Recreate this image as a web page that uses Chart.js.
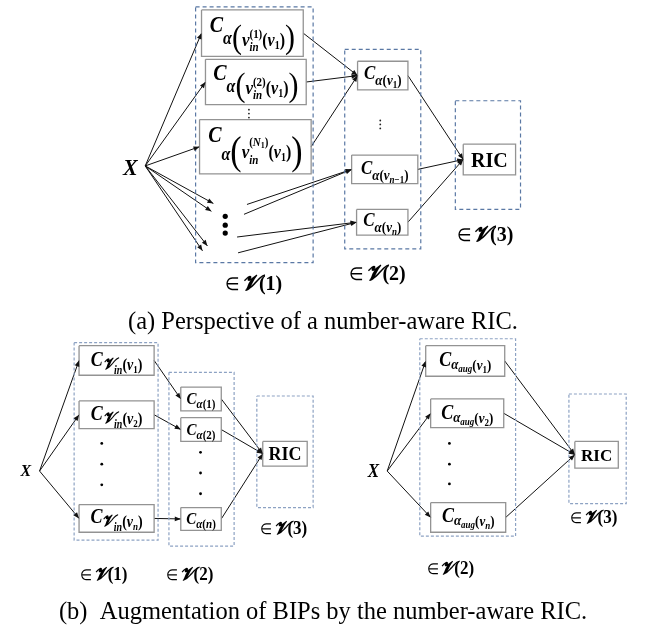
<!DOCTYPE html>
<html>
<head>
<meta charset="utf-8">
<script src="https://cdn.jsdelivr.net/npm/chart.js@4/dist/chart.umd.min.js"></script>
<style>
  html, body { margin: 0; padding: 0; background: #fff; }
  canvas { display: block; }
</style>
</head>
<body>
<canvas id="diagram" width="646" height="635"></canvas>
<script>
// text runs: [text, size, baseline shift, style]  ('{' '|' '}' stack sup/sub)
const I = 'i', B = 'b', R = 'r';

const lblIn1 = [['C',20,0,I],['α',16,12,I],['(',30,16,R],['v',17,14,I],['{'],['(1)',11,6,B],['|'],['in',11,19,I],['}'],['(',16,14,B],['v',16,14,I],['1',10,17,B],[')',16,14,B],[')',30,16,R]];
const lblIn2 = [['C',20,0,I],['α',16,12,I],['(',30,16,R],['v',17,14,I],['{'],['(2)',11,6,B],['|'],['in',11,19,I],['}'],['(',16,14,B],['v',16,14,I],['1',10,17,B],[')',16,14,B],[')',30,16,R]];
const lblInN = [['C',20,0,I],['α',16,18,I],['(',34,22,R],['v',17,16,I],['{'],['(',11,4,B],['N',11,4,I],['1',8,6,B],[')',11,4,B],['|'],['in',11,22,I],['}'],['(',16,16,B],['v',16,16,I],['1',10,19,B],[')',16,16,B],[')',34,22,R]];
const lblC1 = [['C',17,0,I],['α',13,6,I],['(',13,6,B],['v',13,6,I],['1',9,9,B],[')',13,6,B]];
const lblCn1 = [['C',17,0,I],['α',13,6,I],['(',13,6,B],['v',13,6,I],['n',9,9,I],['−1',9,9,B],[')',13,6,B]];
const lblCn = [['C',17,0,I],['α',13,6,I],['(',13,6,B],['v',13,6,I],['n',9,9,I],[')',13,6,B]];
const lblVin = k => [['C',18,0,I],['𝓥',14,3,I],['in',10,8,I],['(',14,4,B],['v',14,4,I],[k,9,7,k === 'n' ? I : B],[')',14,4,B]];
const lblAk = k => [['C',15,0,I],['α',11,4,I],['(',11,4,B],[k,11,4,k === 'n' ? I : B],[')',11,4,B]];
const lblAug = k => [['C',18,0,I],['α',13,3,I],['aug',9,6,I],['(',13,4,B],['v',13,4,I],[k,9,7,k === 'n' ? I : B],[')',13,4,B]];
const lblRic = s => [['RIC',s,0,B]];
const lblX = s => [['X',s,0,I]];
const lblSet = (k, s) => [['∈',Math.round(s * 0.85),0,R],[' ',s * 0.4,0,R],['𝓥',s,0,I],['(' + k + ')',s,0,B]];

const captionA = '(a) Perspective of a number-aware RIC.';
const captionB = '(b)  Augmentation of BIPs by the number-aware RIC.';

// boxes: id and label
const boxIds = ['a_in1','a_in2','a_inN','a_c1','a_cn1','a_cn','a_ric',
                'l_v1','l_v2','l_vn','l_c1','l_c2','l_cn','l_ric',
                'r_v1','r_v2','r_vn','r_ric'];
const boxLabels = [lblIn1, lblIn2, lblInN, lblC1, lblCn1, lblCn, lblRic(20),
                   lblVin('1'), lblVin('2'), lblVin('n'), lblAk('1'), lblAk('2'), lblAk('n'), lblRic(18),
                   lblAug('1'), lblAug('2'), lblAug('n'), lblRic(17)];

// dashed groups: id and set label
const groupIds = ['a_g1','a_g2','a_g3','l_g1','l_g2','l_g3','r_g2','r_g3'];
const groupLabels = [lblSet(1,20), lblSet(2,20), lblSet(3,20), lblSet(1,17), lblSet(2,17), lblSet(3,17), lblSet(2,17), lblSet(3,17)];

// arrows: from -> to (box ports .L / .R, or named points)
const edges = [
  ['a_X','a_in1.L'],['a_X','a_in2.L'],['a_X','a_inN.L'],
  ['a_X','a_d1'],['a_X','a_d2'],['a_X','a_d3'],['a_X','a_d4'],
  ['a_in1.R','a_c1.L'],['a_in2.R','a_c1.L'],['a_inN.R','a_c1.L'],
  ['a_s1','a_cn1.L'],['a_s2','a_cn1.L'],['a_s3','a_cn.L'],['a_s4','a_cn.L'],
  ['a_c1.R','a_ric.L'],['a_cn1.R','a_ric.L'],['a_cn.R','a_ric.L'],
  ['l_X','l_v1.L'],['l_X','l_v2.L'],['l_X','l_vn.L'],
  ['l_v1.R','l_c1.L'],['l_v2.R','l_c2.L'],['l_vn.R','l_cn.L'],
  ['l_c1.R','l_ric.L'],['l_c2.R','l_ric.L'],['l_cn.R','l_ric.L'],
  ['r_X','r_v1.L'],['r_X','r_v2.L'],['r_X','r_vn.L'],
  ['r_v1.R','r_ric.L'],['r_v2.R','r_ric.L'],['r_vn.R','r_ric.L']
];

// ---------- layout (canvas units) ----------
const boxRect = {
  a_in1:[200,6,303,53], a_in2:[204,56,306,102], a_inN:[198,117,311,172],
  a_c1:[358,58,409,87], a_cn1:[352,153,419,182], a_cn:[357,208,409,234], a_ric:[465,142,518,173],
  l_v1:[76,346,152,376], l_v2:[76,402,152,430], l_vn:[76,507,152,535],
  l_c1:[179,388,220,412], l_c2:[179,419,220,443], l_cn:[179,510,220,533], l_ric:[262,443,307,468],
  r_v1:[427,346,507,377], r_v2:[432,400,506,429], r_vn:[432,505,508,535], r_ric:[578,443,622,470]
};
const boxBaseline = {
  a_in1:28, a_in2:77, a_inN:140, a_c1:76, a_cn1:172, a_cn:225, a_ric:165,
  l_v1:367, l_v2:421, l_vn:526, l_c1:405, l_c2:436, l_cn:527, l_ric:462,
  r_v1:367, r_v2:420, r_vn:525, r_ric:463
};
const groupRect = {
  a_g1:[194,3,313,262], a_g2:[345,46,422,248], a_g3:[457,98,523,208],
  l_g1:[71,343,156,543], l_g2:[167,373,233,549], l_g3:[256,397,313,510],
  r_g2:[421,339,518,539], r_g3:[572,395,630,506]
};
const groupLabelPos = {
  a_g1:[253,290], a_g2:[378,280], a_g3:[487,240],
  l_g1:[101,583], l_g2:[188,583], l_g3:[283,537],
  r_g2:[452,577], r_g3:[597,526]
};
const points = {
  a_X:[143,164], a_d1:[212,202], a_d2:[210,210], a_d3:[206,245], a_d4:[201,250],
  a_s1:[246,203], a_s2:[243,213], a_s3:[236,236], a_s4:[237,252],
  l_X:[36,473], r_X:[388,473]
};
const xLabels = [[lblX(22),128,173],[lblX(16),22,478],[lblX(17),374,479]];
const bigDots = [[224,215],[224,224],[224,232]];
const tinyDots = [[248,107],[248,111],[248,115],[381,118],[381,122],[381,126]];
const smallDots = [[99,445],[99,466],[99,487],[199,454],[199,475],[199,496],[451,445],[451,466],[451,486]];

// math labels are drawn taller than wide to mimic the heavier math font
const MATH_TALL = 1.15;

function port(ref) {
  const [id, side] = ref.split('.');
  if (!side) return points[id];
  const r = boxRect[id];
  return [side === 'L' ? r[0] : r[2], (r[1] + r[3]) / 2];
}
function rectPath(r) {
  return [{x:r[0],y:r[1]},{x:r[2],y:r[1]},{x:r[2],y:r[3]},{x:r[0],y:r[3]},{x:r[0],y:r[1]}];
}

const datasets = [];
groupIds.forEach(id => {
  const dashA = id.startsWith('a_');
  datasets.push({ data: rectPath(groupRect[id]), showLine: true, pointRadius: 0,
    borderColor: dashA ? '#5a78a4' : '#8da2c3', borderWidth: 1.2, borderDash: dashA ? [4, 3] : [3, 2] });
});
boxIds.forEach(id => {
  datasets.push({ data: rectPath(boxRect[id]), showLine: true, pointRadius: 0,
    borderColor: '#939393', borderWidth: 1.3 });
});
edges.forEach(e => {
  const a = port(e[0]), b = port(e[1]);
  datasets.push({ data: [{x:a[0],y:a[1]},{x:b[0],y:b[1]}], showLine: true, pointRadius: 0,
    borderColor: '#111', borderWidth: 1 });
});
datasets.push({ data: bigDots.map(p => ({x:p[0],y:p[1]})), pointRadius: 2.6, backgroundColor: '#000', borderWidth: 0 });
datasets.push({ data: tinyDots.map(p => ({x:p[0],y:p[1]})), pointRadius: 0.9, backgroundColor: '#222', borderWidth: 0 });
datasets.push({ data: smallDots.map(p => ({x:p[0],y:p[1]})), pointRadius: 1.4, backgroundColor: '#000', borderWidth: 0 });

function fontOf(style, size) {
  if (style === I) return 'bold italic ' + size + 'px "Liberation Serif"';
  if (style === B) return 'bold ' + size + 'px "Liberation Serif"';
  return size + 'px "Liberation Serif"';
}
function runs(ctx, list, x0, y0, draw, k) {
  let x = x0, mark = x0, maxX = x0;
  for (const r of list) {
    const t = r[0];
    if (t === '{') { mark = x; maxX = x; continue; }
    if (t === '|') { maxX = Math.max(maxX, x); x = mark; continue; }
    if (t === '}') { x = Math.max(x, maxX); continue; }
    ctx.font = fontOf(r[3], r[1] * k);
    if (draw) ctx.fillText(t, x, y0 + r[2]);
    x += ctx.measureText(t).width;
  }
  return x - x0;
}
function centered(ctx, list, cx, y, k) {
  k = k || 1;
  const w = runs(ctx, list, 0, 0, false, k);
  ctx.save();
  ctx.translate(cx, y);
  ctx.scale(1 / k, 1);
  runs(ctx, list, -w / 2, 0, true, k);
  ctx.restore();
}

const diagramPlugin = {
  id: 'diagram',
  afterDatasetsDraw(chart) {
    const ctx = chart.ctx, sx = chart.scales.x, sy = chart.scales.y;
    const px = v => sx.getPixelForValue(v), py = v => sy.getPixelForValue(v);
    ctx.save();
    // arrow heads
    ctx.fillStyle = '#111';
    edges.forEach(e => {
      const a = port(e[0]), b = port(e[1]);
      const x1 = px(a[0]), y1 = py(a[1]), x2 = px(b[0]), y2 = py(b[1]);
      const ang = Math.atan2(y2 - y1, x2 - x1), L = 6, W = 2.4;
      ctx.beginPath();
      ctx.moveTo(x2, y2);
      ctx.lineTo(x2 - L * Math.cos(ang) + W * Math.sin(ang), y2 - L * Math.sin(ang) - W * Math.cos(ang));
      ctx.lineTo(x2 - L * Math.cos(ang) - W * Math.sin(ang), y2 - L * Math.sin(ang) + W * Math.cos(ang));
      ctx.closePath();
      ctx.fill();
    });
    // text
    ctx.fillStyle = '#000';
    ctx.textBaseline = 'alphabetic';
    ctx.textAlign = 'left';
    boxIds.forEach((id, i) => {
      const r = boxRect[id];
      const isRic = id.endsWith('ric');
      centered(ctx, boxLabels[i], px((r[0] + r[2]) / 2), py(boxBaseline[id]), isRic ? 1 : MATH_TALL);
    });
    groupIds.forEach((id, i) => {
      const p = groupLabelPos[id];
      centered(ctx, groupLabels[i], px(p[0]), py(p[1]), 1.08);
    });
    xLabels.forEach(l => centered(ctx, l[0], px(l[1]), py(l[2]), 1.08));
    ctx.font = '24.5px "Liberation Serif"';
    ctx.textAlign = 'center';
    ctx.fillText(captionA, px(323), py(329));
    ctx.fillText(captionB, px(323), py(623));
    ctx.restore();
  }
};

new Chart(document.getElementById('diagram').getContext('2d'), {
  type: 'scatter',
  data: { datasets: datasets },
  options: {
    responsive: false,
    animation: false,
    layout: { padding: 0 },
    plugins: { legend: { display: false }, tooltip: { enabled: false } },
    scales: {
      x: { display: false, min: 0, max: 646 },
      y: { display: false, min: 0, max: 635, reverse: true }
    }
  },
  plugins: [diagramPlugin]
});
</script>
</body>
</html>
